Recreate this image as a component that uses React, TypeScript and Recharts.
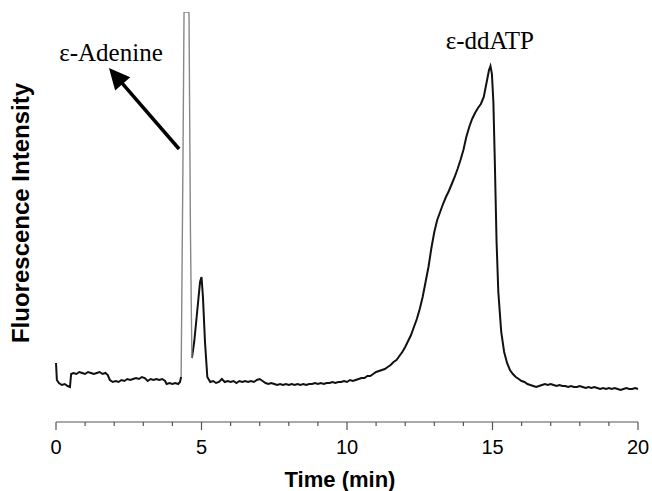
import React from 'react';
import { LineChart, Line, XAxis, YAxis, ReferenceLine, ReferenceDot, Label } from 'recharts';

// retention time (min) and detector signal (arbitrary units)
const times = [
  0, 0.03, 0.1, 0.2, 0.3, 0.4, 0.48, 0.52, 0.6, 0.7, 0.8, 0.9, 1.0, 1.1, 1.2, 1.3, 1.4, 1.5, 1.6, 1.7,
  1.78, 1.85, 1.95, 2.05, 2.15, 2.25, 2.35, 2.45, 2.55, 2.65, 2.75, 2.85, 2.95, 3.05, 3.15, 3.25, 3.35,
  3.45, 3.55, 3.65, 3.75, 3.8, 3.9, 4.0, 4.1, 4.2, 4.26, 4.3, 4.36, 4.4, 4.57, 4.62, 4.67, 4.75,
  4.85, 4.95, 5.0, 5.05, 5.12, 5.2, 5.3, 5.4, 5.5, 5.6, 5.7, 5.8, 5.9, 6.0, 6.1, 6.2, 6.3, 6.4, 6.5,
  6.6, 6.7, 6.8, 6.9, 7.0, 7.1, 7.2, 7.3, 7.4, 7.5, 7.6, 7.7, 7.8, 7.9, 8.0, 8.1, 8.2, 8.3, 8.4, 8.5,
  8.6, 8.7, 8.8, 8.9, 9.0, 9.1, 9.2, 9.3, 9.4, 9.5, 9.6, 9.7, 9.8, 9.9, 10.0, 10.1, 10.2, 10.3, 10.4,
  10.5, 10.6, 10.7, 10.8, 10.9, 11.0, 11.1, 11.2, 11.3, 11.4, 11.5, 11.6, 11.7, 11.8, 11.9, 12.0, 12.1,
  12.2, 12.3, 12.4, 12.5, 12.6, 12.7, 12.8, 12.9, 13.0, 13.1, 13.2, 13.3, 13.4, 13.5, 13.6, 13.7, 13.8,
  13.9, 14.0, 14.1, 14.2, 14.3, 14.4, 14.5, 14.6, 14.7, 14.8, 14.88, 14.93, 14.98, 15.03, 15.08, 15.14,
  15.2, 15.3, 15.4, 15.5, 15.6, 15.7, 15.8, 15.9, 16.0, 16.1, 16.2, 16.3, 16.4, 16.5, 16.6, 16.7, 16.8,
  16.9, 17.0, 17.1, 17.2, 17.3, 17.4, 17.5, 17.6, 17.7, 17.8, 17.9, 18.0, 18.1, 18.2, 18.3, 18.4, 18.5,
  18.6, 18.7, 18.8, 18.9, 19.0, 19.1, 19.2, 19.3, 19.4, 19.5, 19.6, 19.7, 19.8, 19.9, 20.0,
];

const signal = [
  59, 42, 39, 37, 38, 36, 35, 48, 49, 48, 50, 49, 48, 50, 49, 48, 49, 50, 48, 49,
  47, 42, 40, 41, 40, 42, 41, 43, 42, 43, 44, 43, 45, 44, 41, 43, 42,
  43, 42, 43, 41, 38, 39, 38, 39, 38, 40, 45, 250, 410, 410, 190, 64, 80,
  110, 140, 145, 125, 80, 45, 40, 41, 39, 40, 43, 40, 41, 40, 41, 39, 41, 40, 41,
  40, 41, 40, 42, 43, 41, 39, 38, 39, 38, 37, 38, 37, 38, 37, 38, 37, 38, 37, 38,
  37, 38, 38, 39, 38, 39, 38, 39, 39, 40, 39, 40, 40, 41, 40, 42, 41, 42, 43,
  44, 44, 46, 46, 48, 50, 51, 52, 53, 55, 57, 60, 62, 66, 70, 75, 81,
  87, 95, 103, 113, 125, 140, 155, 174, 190, 202, 210, 218, 225, 231, 238, 245, 253,
  262, 272, 285, 295, 303, 309, 314, 318, 325, 340, 352, 356, 348, 320, 260, 180,
  130, 90, 70, 59, 52, 48, 45, 43, 41, 40, 38, 37, 36, 35, 36, 37, 38,
  37, 38, 37, 36, 37, 36, 36, 35, 36, 35, 35, 36, 35, 34, 35, 34, 35,
  34, 33, 34, 33, 34, 33, 34, 33, 32, 33, 34, 33, 33, 34, 33,
];

// the off-scale ε-Adenine peak is drawn in grey
const overflowFrom = 4.3;
const overflowTo = 4.67;

const xTicks = [0, 1, 2, 3, 4, 5, 6, 7, 8, 9, 10, 11, 12, 13, 14, 15, 16, 17, 18, 19, 20];
const majorTicks = [0, 5, 10, 15, 20];

const data = times.map((t, i) => ({
  t,
  main: t <= overflowFrom || t >= overflowTo ? signal[i] : null,
  peak: t >= overflowFrom && t <= overflowTo ? signal[i] : null,
}));

const TimeTick = (props: any) => {
  const { x, y, payload } = props;
  const major = majorTicks.includes(payload.value);
  return (
    <g>
      <line x1={x} x2={x} y1={y} y2={y + (major ? 8 : 4)} stroke="#555" strokeWidth={1.2} />
      {major && (
        <text x={x} y={y + 32} textAnchor="middle" fontSize={20} fill="#000"
          fontFamily="Liberation Sans, Arial, sans-serif">
          {payload.value}
        </text>
      )}
    </g>
  );
};

const Arrow = (props: any) => {
  const { x1, y1, x2, y2 } = props;
  const dx = x2 - x1;
  const dy = y2 - y1;
  const len = Math.sqrt(dx * dx + dy * dy);
  const ux = dx / len;
  const uy = dy / len;
  const head = 21;
  const half = 10;
  const bx = x2 - ux * head;
  const by = y2 - uy * head;
  return (
    <g>
      <line x1={x1} y1={y1} x2={bx + ux * 2} y2={by + uy * 2} stroke="#000" strokeWidth={3.5} />
      <polygon
        points={`${x2},${y2} ${bx - uy * half},${by + ux * half} ${bx + uy * half},${by - ux * half}`}
        fill="#000"
      />
    </g>
  );
};

const PeakText = (text: string) => (props: any) => (
  <text x={props.cx} y={props.cy} textAnchor="middle" fontSize={25} fill="#000"
    fontFamily="Liberation Serif, Times New Roman, serif">
    {text}
  </text>
);

// y title sits left of the plot; anchored at the axis origin
const YTitle = (props: any) => {
  const x = props.cx - 27;
  const y = props.cy - 209;
  return (
    <text x={x} y={y} textAnchor="middle" transform={`rotate(-90, ${x}, ${y})`}
      fontSize={24} fontWeight="bold" fill="#000" fontFamily="Liberation Sans, Arial, sans-serif">
      Fluorescence Intensity
    </text>
  );
};

export default function App() {
  return (
    <div style={{ position: 'absolute', left: 0, top: 0, background: '#fff' }}>
      <LineChart width={652} height={491} data={data} margin={{ top: 12, right: 14, left: 56, bottom: 0 }}>
        <XAxis
          dataKey="t"
          type="number"
          domain={[0, 20]}
          ticks={xTicks}
          interval={0}
          tick={<TimeTick />}
          tickLine={false}
          tickSize={0}
          tickMargin={0}
          stroke="#555"
          height={69}
        >
          <Label
            content={(p: any) => (
              <text x={p.viewBox.x + p.viewBox.width / 2 - 7} y={p.viewBox.y + 65} textAnchor="middle"
                fontSize={22} fontWeight="bold" fill="#000" fontFamily="Liberation Sans, Arial, sans-serif">
                Time (min)
              </text>
            )}
          />
        </XAxis>
        <YAxis type="number" domain={[0, 410]} allowDataOverflow width={0} axisLine={false} tick={false} tickLine={false} />
        <Line type="linear" dataKey="main" stroke="#111" strokeWidth={2} dot={false} isAnimationActive={false} connectNulls={false} />
        <Line type="linear" dataKey="peak" stroke="#888" strokeWidth={1.4} dot={false} isAnimationActive={false} connectNulls={false} />
        <ReferenceLine segment={[{ x: 4.23, y: 273 }, { x: 1.82, y: 354 }]} shape={Arrow} />
        <ReferenceDot x={1.89} y={361} r={0} shape={PeakText('ε-Adenine')} />
        <ReferenceDot x={14.91} y={373} r={0} shape={PeakText('ε-ddATP')} />
        <ReferenceDot x={0} y={0} r={0} shape={YTitle} />
      </LineChart>
    </div>
  );
}
